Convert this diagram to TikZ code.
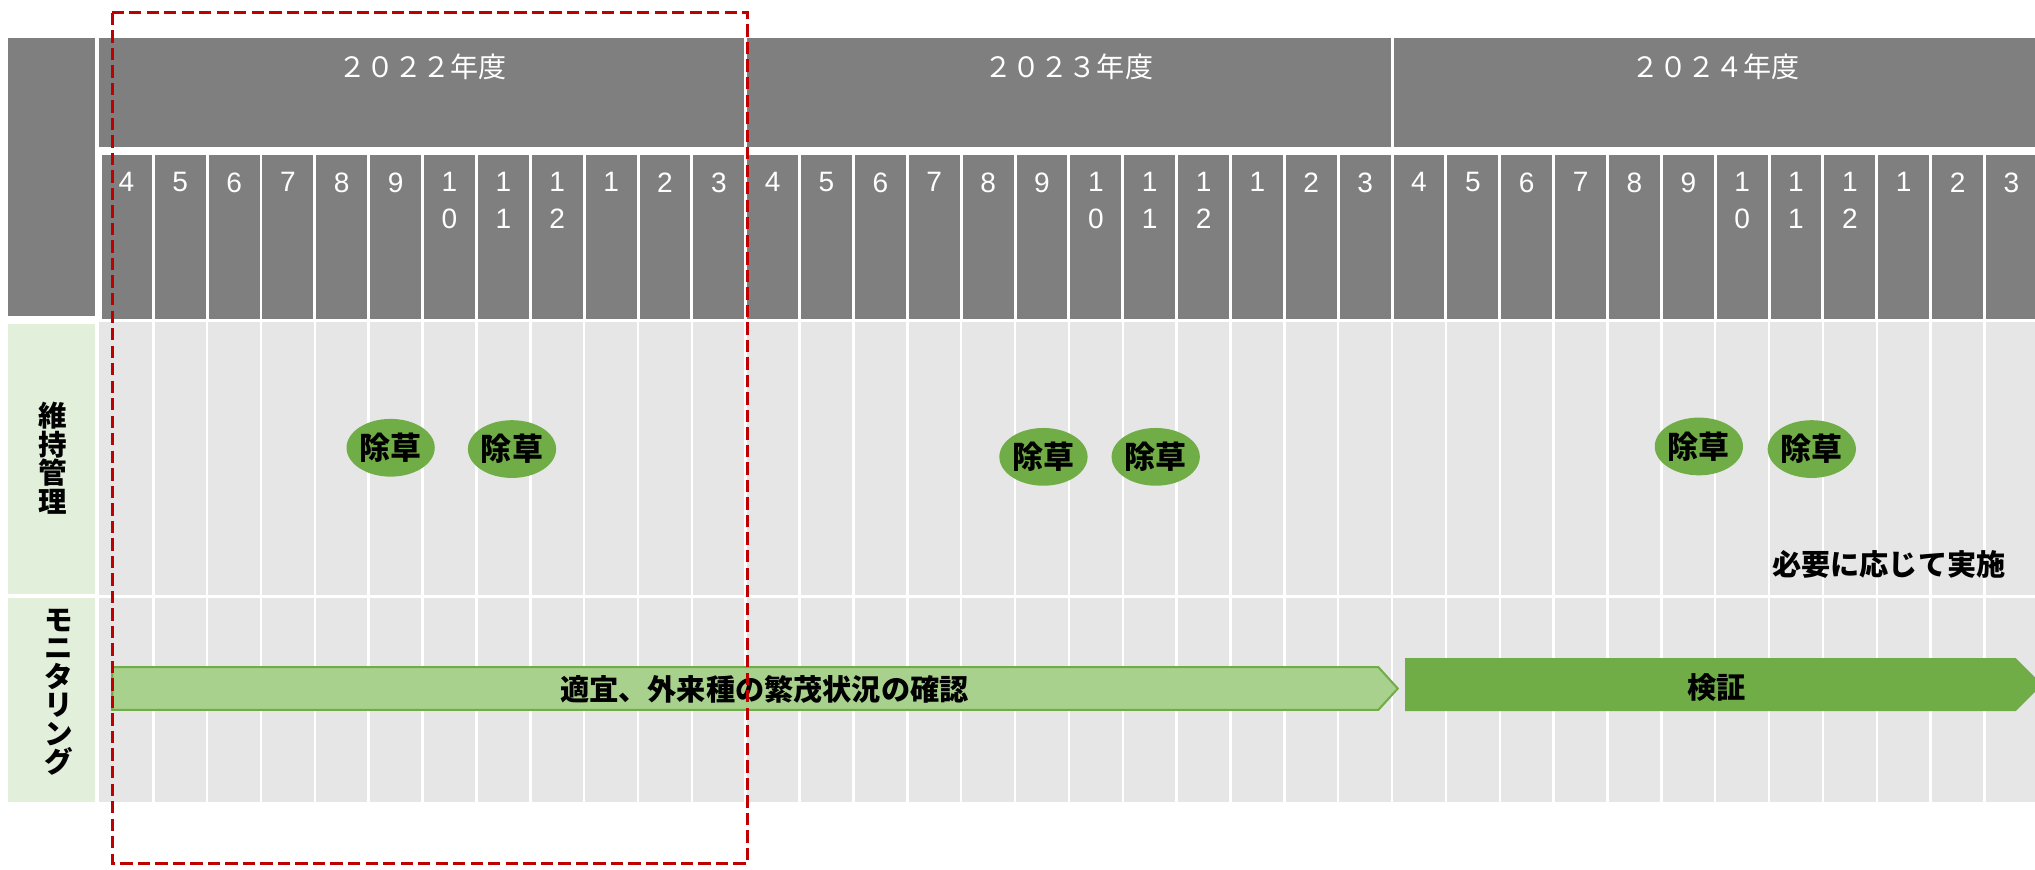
\documentclass[tikz,border=0pt]{standalone}
\usepackage{fontspec}
\setmainfont{Liberation Sans}
\newfontfamily\jp{Noto Sans CJK JP}
\usetikzlibrary{shapes.geometric}

\definecolor{hdrgray}{HTML}{7F7F7F}
\definecolor{cellgray}{HTML}{E6E6E6}
\definecolor{labelgreen}{HTML}{E2EFDA}
\definecolor{leafgreen}{HTML}{70AD47}
\definecolor{palegreen}{HTML}{A9D18E}
\definecolor{framered}{HTML}{C00000}

\begin{document}
\begin{tikzpicture}[x=0.02cm, y=-0.02cm,
    monthnum/.style={text=white, font=\fontsize{12.3}{16}\selectfont, align=center, anchor=north, inner sep=0pt},
    yearlabel/.style={text=white, font=\jp\fontsize{12.3}{12.3}\selectfont},
    weeding/.style={ellipse, fill=leafgreen, minimum width=1.36cm, minimum height=0.89cm, inner sep=0pt, font=\jp\bfseries\fontsize{13.6}{14}\selectfont},
    rowlabel/.style={align=center, inner sep=0pt, font=\jp\bfseries\fontsize{12.5}{12.5}\selectfont},
    bartext/.style={font=\jp\bfseries\fontsize{12.8}{13}\selectfont}]

    \useasboundingbox (0,0) rectangle (1568,670);
    \clip (0,0) rectangle (1568,670);

    % header
    \fill[hdrgray] (6,29) rectangle (73,243.5);
    \fill[hdrgray] (76.6,29) rectangle (1572,113);
    \fill[hdrgray] (78.6,119.5) rectangle (1572,245.6);
    \foreach \k in {1,...,35}
        \draw[white, line width=1.3pt] ({76.6+41.5*\k},119.5) -- ({76.6+41.5*\k},245.6);
    \foreach \k in {12,24}
        \draw[white, line width=1.3pt] ({76.6+41.5*\k},29) -- ({76.6+41.5*\k},113);

    \node[yearlabel] (fy2022) at (325.6,51.4) {２０２２年度};
    \node[yearlabel] (fy2023) at (823.6,51.4) {２０２３年度};
    \node[yearlabel] (fy2024) at (1321.6,51.4) {２０２４年度};

    \foreach \yr in {0,1,2}
        \foreach \m [count=\i from 0] in {4,5,6,7,8,9,{1\\0},{1\\1},{1\\2},1,2,3}
            \node[monthnum] (m\yr-\i) at ({76.6+41.5*(12*\yr+\i+0.5)},132.5) {\m};

    % body
    \fill[cellgray] (76.6,248.3) rectangle (1572,618);
    \fill[labelgreen] (6,250) rectangle (73,457.5);
    \fill[labelgreen] (6,461) rectangle (73,618);
    \foreach \k in {1,...,35}
        \draw[white, line width=1.1pt] ({76.6+41.5*\k},248.3) -- ({76.6+41.5*\k},618);
    \draw[white, line width=1.3pt] (76.6,459.5) -- (1572,459.5);

    \node[rowlabel] (upkeep) at (41,353) {維\\持\\管\\理};
    \node[rowlabel] (monitor) at (45,533.5) {モ\\ニ\\タ\\リ\\ン\\グ};

    \node[weeding] (w22a) at (301,345) {除草};
    \node[weeding] (w22b) at (394.5,346) {除草};
    \node[weeding] (w23a) at (804,352) {除草};
    \node[weeding] (w23b) at (890.5,352) {除草};
    \node[weeding] (w24a) at (1309,344) {除草};
    \node[weeding] (w24b) at (1396,346) {除草};
    \node[bartext] (asneeded) at (1455.4,434.8) {必要に応じて実施};

    \filldraw[fill=palegreen, draw=leafgreen, line width=0.9pt]
        (86.5,514) -- (1062,514) -- (1077,530.5) -- (1062,547) -- (86.5,547) -- cycle;
    \node[bartext] (survey) at (589,531) {適宜、外来種の繁茂状況の確認};
    \fill[leafgreen] (1082.6,507) -- (1553,507) -- (1573.5,527.5) -- (1553,548) -- (1082.6,548) -- cycle;
    \node[bartext] (verify) at (1322.7,529.5) {検証};

    \draw[framered, line width=1.3pt, dash pattern=on 0.19cm off 0.08cm] (86.5,9.8) rectangle (576.3,665);

\end{tikzpicture}
\end{document}
